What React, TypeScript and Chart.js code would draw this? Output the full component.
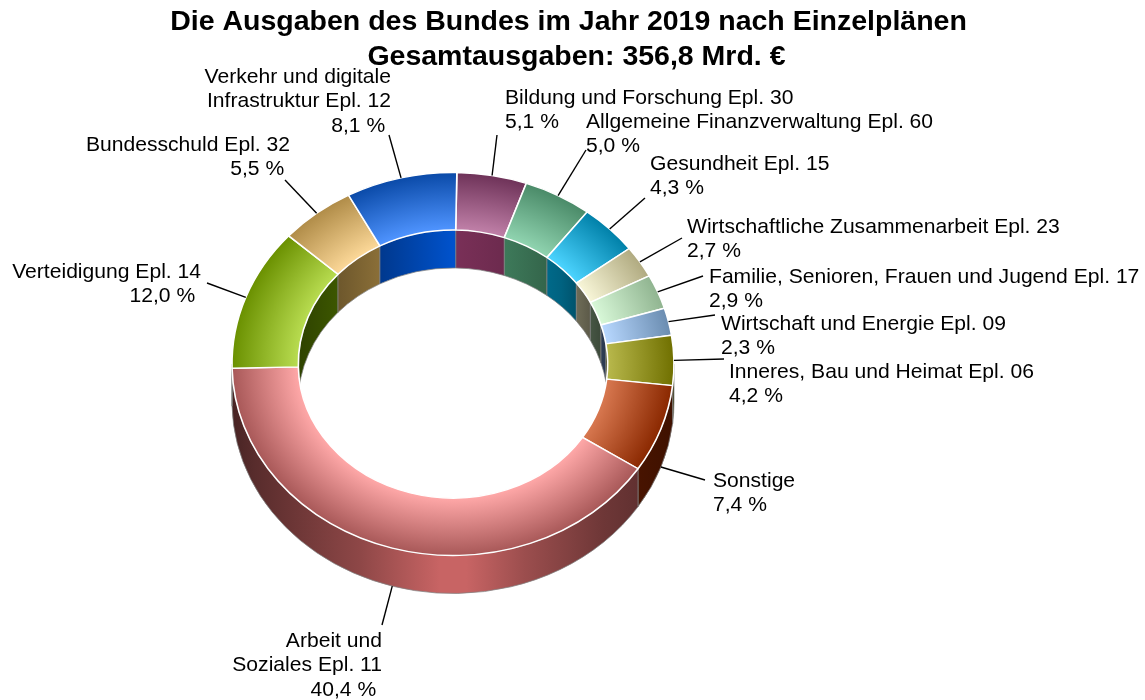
import React, { useEffect, useRef } from "react";
import { Chart, registerables } from "chart.js";

Chart.register(...registerables);

const categories = [
  "Bildung und Forschung Epl. 30",
  "Allgemeine Finanzverwaltung Epl. 60",
  "Gesundheit Epl. 15",
  "Wirtschaftliche Zusammenarbeit Epl. 23",
  "Familie, Senioren, Frauen und Jugend Epl. 17",
  "Wirtschaft und Energie Epl. 09",
  "Inneres, Bau und Heimat Epl. 06",
  "Sonstige",
  "Arbeit und\nSoziales Epl. 11",
  "Verteidigung Epl. 14",
  "Bundesschuld Epl. 32",
  "Verkehr und digitale\nInfrastruktur Epl. 12",
];
const shares = [5.1, 5.0, 4.3, 2.7, 2.9, 2.3, 4.2, 7.4, 40.4, 12.0, 5.5, 8.1];

const innerColors = ["#c080a8", "#90d4b0", "#4cd4ff", "#f8f6d8", "#d8f8d8", "#b8d8ff", "#b8b84c", "#d87850", "#ffa8a8", "#b8dc50", "#fcd898", "#4f94ff"];
const outerColors = ["#6e3258", "#4a8a68", "#0080a8", "#b0aa80", "#90b490", "#6a8cb0", "#707000", "#8a2800", "#a85858", "#6a9000", "#b08c48", "#0a4aa8"];
const wallColors = ["#7a3058", "#468a66", "#0090bc", "#c0bc98", "#94b490", "#6e94cc", "#707000", "#942800", "#c86464", "#6e9e00", "#c8a050", "#0052cc"];

// label anchor (x, y of first line), alignment, and the free end of the leader
const labelX = [505, 586, 650, 687, 709, 721, 729, 713, 382, 201, 290, 391];
const labelY = [98, 122, 164, 227, 277, 324, 372, 481, 641, 272, 145, 77];
const labelAlign = ["left", "left", "left", "left", "left", "left", "left", "left", "right", "right", "right", "right"];
const leaderX = [497, 586, 645, 682, 703, 715, 724, 705, 382, 207, 285, 389];
const leaderY = [135, 150, 198, 238, 276, 315, 359, 480, 625, 283, 180, 135];

const titleLines = ["Die Ausgaben des Bundes im Jahr 2019 nach Einzelplänen ", " Gesamtausgaben: 356,8 Mrd. €"];

const CENTER_X = 453;
const CENTER_Y = 364;
const SQUASH = 0.8665;
const DEPTH = 38;
const OUTER_RADIUS = 221;
const FONT = '"Liberation Sans", Arial, sans-serif';

function shade(hex: string, f: number) {
  const n = parseInt(hex.slice(1), 16);
  const c = [(n >> 16) & 255, (n >> 8) & 255, n & 255].map((v) => Math.round(v * f));
  return `rgb(${c[0]},${c[1]},${c[2]})`;
}

function wallGradient(ctx: CanvasRenderingContext2D, x0: number, x1: number, hex: string, stops: number[][]) {
  const g = ctx.createLinearGradient(x0, 0, x1, 0);
  stops.forEach(([t, f]) => g.addColorStop(t, shade(hex, f)));
  return g;
}

const outerStops = [[0, 0.36], [0.05, 0.44], [0.29, 0.71], [0.47, 1], [0.53, 1], [0.66, 0.78], [0.84, 0.55], [1, 0.42]];
const innerStops = [[0, 0.42], [0.15, 0.57], [0.27, 0.7], [0.5, 1], [0.65, 0.9], [0.85, 0.68], [0.97, 0.42], [1, 0.38]];

function overlap(s: number, e: number, ranges: number[][]) {
  return ranges.map(([a, b]) => [Math.max(s, a), Math.min(e, b)]).filter(([a, b]) => b > a);
}

const ring3d = {
  id: "ring3d",
  beforeDatasetsDraw(chart: any) {
    const ctx = chart.ctx as CanvasRenderingContext2D;
    const meta = chart.getDatasetMeta(0);
    ctx.save();
    ctx.lineWidth = 1;
    ctx.strokeStyle = "rgba(130,130,130,0.75)";
    meta.data.forEach((el: any, i: number) => {
      const { startAngle, endAngle, outerRadius, innerRadius } = el;
      const band = (r: number, ranges: number[][], stops: number[][]) => {
        overlap(startAngle, endAngle, ranges).forEach(([a, b]) => {
          ctx.beginPath();
          ctx.ellipse(CENTER_X, CENTER_Y, r, r * SQUASH, 0, a, b, false);
          ctx.ellipse(CENTER_X, CENTER_Y + DEPTH, r, r * SQUASH, 0, b, a, true);
          ctx.closePath();
          ctx.fillStyle = wallGradient(ctx, CENTER_X - r, CENTER_X + r, wallColors[i], stops);
          ctx.fill();
          ctx.stroke();
        });
      };
      band(innerRadius, [[-Math.PI, 0], [Math.PI, 2 * Math.PI]], innerStops);
      band(outerRadius, [[0, Math.PI]], outerStops);
    });
    ctx.restore();
    const { x, y } = meta.data[0];
    ctx.save();
    ctx.translate(CENTER_X, CENTER_Y);
    ctx.scale(1, SQUASH);
    ctx.translate(-x, -y);
  },
  afterDatasetsDraw(chart: any) {
    chart.ctx.restore();
  },
  afterDraw(chart: any) {
    const ctx = chart.ctx as CanvasRenderingContext2D;
    const meta = chart.getDatasetMeta(0);
    ctx.save();
    ctx.font = `21.1px ${FONT}`;
    ctx.fillStyle = "#000";
    ctx.textBaseline = "middle";
    meta.data.forEach((el: any, i: number) => {
      const mid = (el.startAngle + el.endAngle) / 2;
      const px = CENTER_X + el.outerRadius * Math.cos(mid);
      const sy = Math.sin(mid);
      const py = CENTER_Y + el.outerRadius * SQUASH * sy + (sy > 0 ? DEPTH : 0);
      ctx.beginPath();
      ctx.moveTo(px, py);
      ctx.lineTo(leaderX[i], leaderY[i]);
      ctx.strokeStyle = "#000";
      ctx.lineWidth = 1.4;
      ctx.stroke();

      const pct = shares[i].toFixed(1).replace(".", ",") + " %";
      const right = labelAlign[i] === "right";
      const lines = [...categories[i].split("\n"), right ? pct + " " : pct];
      ctx.textAlign = right ? "right" : "left";
      lines.forEach((t, k) => ctx.fillText(t, labelX[i], labelY[i] + k * 24.4));
    });
    ctx.restore();
  },
};

export default function App() {
  const ref = useRef<HTMLCanvasElement>(null);
  useEffect(() => {
    document.body.style.margin = "0";
    const chart = new Chart(ref.current!, {
      type: "doughnut",
      data: {
        labels: categories,
        datasets: [
          {
            data: shares,
            borderColor: "#ffffff",
            borderWidth: 1.6,
            backgroundColor: (c: any) => {
              const area = c.chart.chartArea;
              if (!area) return outerColors[c.dataIndex];
              const x = (area.left + area.right) / 2;
              const y = (area.top + area.bottom) / 2;
              const g = c.chart.ctx.createRadialGradient(x, y, OUTER_RADIUS * 0.7, x, y, OUTER_RADIUS);
              g.addColorStop(0, innerColors[c.dataIndex]);
              g.addColorStop(1, outerColors[c.dataIndex]);
              return g;
            },
          },
        ],
      },
      options: {
        responsive: false,
        animation: false,
        rotation: 1,
        radius: OUTER_RADIUS,
        cutout: "70%",
        plugins: {
          legend: { display: false },
          tooltip: { enabled: false },
          title: {
            display: true,
            text: titleLines,
            color: "#000",
            font: { family: FONT, size: 28.5, weight: "bold", lineHeight: 1.23 },
            padding: { top: 5, bottom: 0 },
          },
        },
      },
      plugins: [ring3d],
    } as any);
    return () => chart.destroy();
  }, []);
  return (
    <div style={{ width: 1145, height: 700 }}>
      <canvas ref={ref} width={1145} height={700} style={{ display: "block" }} />
    </div>
  );
}
